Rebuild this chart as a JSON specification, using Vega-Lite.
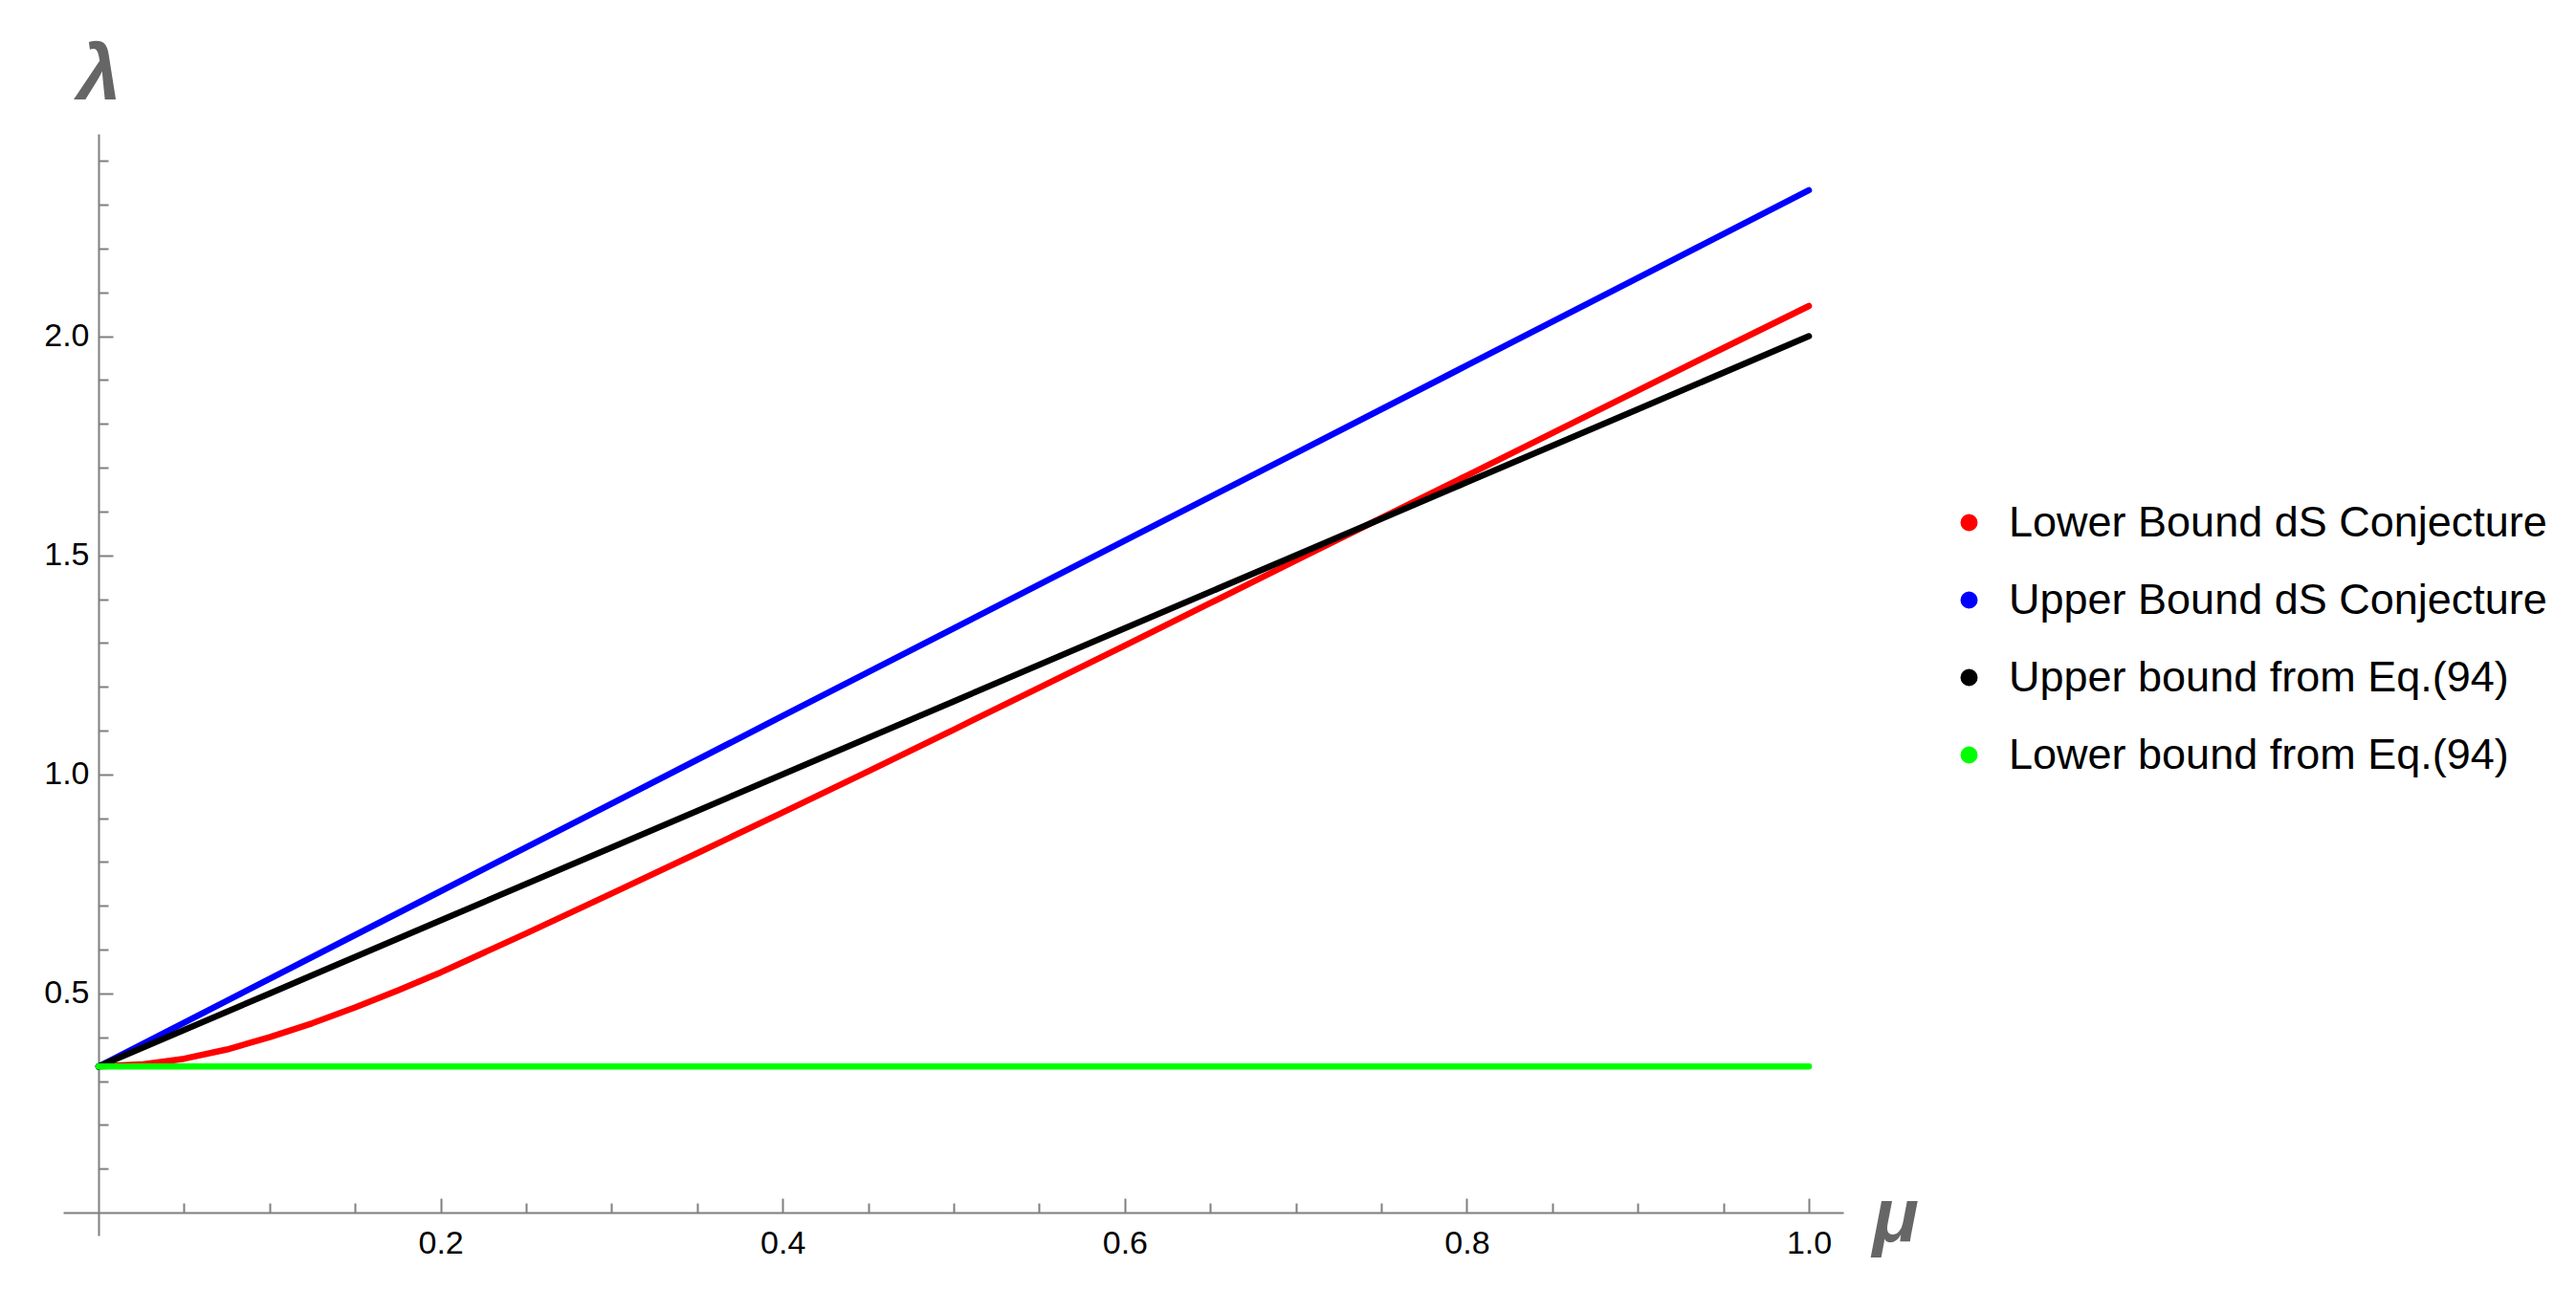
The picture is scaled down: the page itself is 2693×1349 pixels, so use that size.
{
  "$schema": "https://vega.github.io/schema/vega-lite/v6.json",
  "width": 1861,
  "height": 1152,
  "autosize": {"type": "none"},
  "padding": {"left": 66, "top": 140, "right": 766, "bottom": 57},
  "background": "white",
  "config": {"view": {"stroke": null}, "font": "Liberation Sans"},
  "data": {"values": [
    {"mu": 0, "lambda": 0.3333, "series": "Lower Bound dS Conjecture"},
    {"mu": 0.025, "lambda": 0.338, "series": "Lower Bound dS Conjecture"},
    {"mu": 0.05, "lambda": 0.351, "series": "Lower Bound dS Conjecture"},
    {"mu": 0.075, "lambda": 0.372, "series": "Lower Bound dS Conjecture"},
    {"mu": 0.1, "lambda": 0.4, "series": "Lower Bound dS Conjecture"},
    {"mu": 0.125, "lambda": 0.432, "series": "Lower Bound dS Conjecture"},
    {"mu": 0.15, "lambda": 0.468, "series": "Lower Bound dS Conjecture"},
    {"mu": 0.175, "lambda": 0.507, "series": "Lower Bound dS Conjecture"},
    {"mu": 0.2, "lambda": 0.548, "series": "Lower Bound dS Conjecture"},
    {"mu": 0.25, "lambda": 0.637, "series": "Lower Bound dS Conjecture"},
    {"mu": 0.3, "lambda": 0.728, "series": "Lower Bound dS Conjecture"},
    {"mu": 0.35, "lambda": 0.82, "series": "Lower Bound dS Conjecture"},
    {"mu": 0.4, "lambda": 0.913, "series": "Lower Bound dS Conjecture"},
    {"mu": 0.45, "lambda": 1.007, "series": "Lower Bound dS Conjecture"},
    {"mu": 0.5, "lambda": 1.102, "series": "Lower Bound dS Conjecture"},
    {"mu": 0.55, "lambda": 1.198, "series": "Lower Bound dS Conjecture"},
    {"mu": 0.6, "lambda": 1.294, "series": "Lower Bound dS Conjecture"},
    {"mu": 0.65, "lambda": 1.391, "series": "Lower Bound dS Conjecture"},
    {"mu": 0.7, "lambda": 1.488, "series": "Lower Bound dS Conjecture"},
    {"mu": 0.75, "lambda": 1.585, "series": "Lower Bound dS Conjecture"},
    {"mu": 0.8, "lambda": 1.682, "series": "Lower Bound dS Conjecture"},
    {"mu": 0.85, "lambda": 1.779, "series": "Lower Bound dS Conjecture"},
    {"mu": 0.9, "lambda": 1.876, "series": "Lower Bound dS Conjecture"},
    {"mu": 0.95, "lambda": 1.973, "series": "Lower Bound dS Conjecture"},
    {"mu": 1.0, "lambda": 2.069, "series": "Lower Bound dS Conjecture"},
    {"mu": 0, "lambda": 0.3333, "series": "Upper Bound dS Conjecture"},
    {"mu": 0.1, "lambda": 0.5333, "series": "Upper Bound dS Conjecture"},
    {"mu": 0.2, "lambda": 0.7333, "series": "Upper Bound dS Conjecture"},
    {"mu": 0.3, "lambda": 0.9333, "series": "Upper Bound dS Conjecture"},
    {"mu": 0.4, "lambda": 1.1333, "series": "Upper Bound dS Conjecture"},
    {"mu": 0.5, "lambda": 1.3333, "series": "Upper Bound dS Conjecture"},
    {"mu": 0.6, "lambda": 1.5333, "series": "Upper Bound dS Conjecture"},
    {"mu": 0.7, "lambda": 1.7333, "series": "Upper Bound dS Conjecture"},
    {"mu": 0.8, "lambda": 1.9333, "series": "Upper Bound dS Conjecture"},
    {"mu": 0.9, "lambda": 2.1333, "series": "Upper Bound dS Conjecture"},
    {"mu": 1.0, "lambda": 2.3333, "series": "Upper Bound dS Conjecture"},
    {"mu": 0, "lambda": 0.3333, "series": "Upper bound from Eq.(94)"},
    {"mu": 0.1, "lambda": 0.5, "series": "Upper bound from Eq.(94)"},
    {"mu": 0.2, "lambda": 0.6667, "series": "Upper bound from Eq.(94)"},
    {"mu": 0.3, "lambda": 0.8333, "series": "Upper bound from Eq.(94)"},
    {"mu": 0.4, "lambda": 1.0, "series": "Upper bound from Eq.(94)"},
    {"mu": 0.5, "lambda": 1.1667, "series": "Upper bound from Eq.(94)"},
    {"mu": 0.6, "lambda": 1.3333, "series": "Upper bound from Eq.(94)"},
    {"mu": 0.7, "lambda": 1.5, "series": "Upper bound from Eq.(94)"},
    {"mu": 0.8, "lambda": 1.6667, "series": "Upper bound from Eq.(94)"},
    {"mu": 0.9, "lambda": 1.8333, "series": "Upper bound from Eq.(94)"},
    {"mu": 1.0, "lambda": 2.0, "series": "Upper bound from Eq.(94)"},
    {"mu": 0, "lambda": 0.3333, "series": "Lower bound from Eq.(94)"},
    {"mu": 0.5, "lambda": 0.3333, "series": "Lower bound from Eq.(94)"},
    {"mu": 1.0, "lambda": 0.3333, "series": "Lower bound from Eq.(94)"}
  ]},
  "mark": {"type": "line", "strokeWidth": 6.5, "strokeCap": "round", "strokeJoin": "round", "clip": false},
  "encoding": {
    "x": {
      "field": "mu", "type": "quantitative",
      "scale": {"domain": [-0.0207, 1.0201], "nice": false, "zero": false},
      "axis": {
        "orient": "bottom", "offset": -24,
        "values": [0.05,0.1,0.15,0.2,0.25,0.3,0.35,0.4,0.45,0.5,0.55,0.6,0.65,0.7,0.75,0.8,0.85,0.9,0.95,1.0],
        "grid": false,
        "domainColor": "#7f7f7f", "domainWidth": 2,
        "tickColor": "#7f7f7f", "tickWidth": 2,
        "tickSize": {"condition": {"test": "abs(datum.value*5 - round(datum.value*5)) < 0.001", "value": -15}, "value": -10},
        "labelExpr": "abs(datum.value*5 - round(datum.value*5)) < 0.001 ? format(datum.value, '.1f') : ''",
        "labelFontSize": 34, "labelColor": "black", "labelPadding": 30,
        "labelOverlap": false, "labelFlush": false,
        "title": "μ", "titleFontSize": 80, "titleFontStyle": "italic", "titleFontWeight": "bold",
        "titleColor": "#666666", "titleX": 1891, "titleY": 29, "titleAlign": "left", "titleBaseline": "alphabetic", "titleAngle": 0
      }
    },
    "y": {
      "field": "lambda", "type": "quantitative",
      "scale": {"domain": [-0.0524, 2.4618], "nice": false, "zero": false},
      "axis": {
        "orient": "left", "offset": -37,
        "values": [0.1,0.2,0.3,0.4,0.5,0.6,0.7,0.8,0.9,1.0,1.1,1.2,1.3,1.4,1.5,1.6,1.7,1.8,1.9,2.0,2.1,2.2,2.3,2.4],
        "grid": false,
        "domainColor": "#7f7f7f", "domainWidth": 2,
        "tickColor": "#7f7f7f", "tickWidth": 2,
        "tickSize": {"condition": {"test": "abs(datum.value*2 - round(datum.value*2)) < 0.001", "value": -15}, "value": -10},
        "labelExpr": "abs(datum.value*2 - round(datum.value*2)) < 0.001 ? format(datum.value, '.1f') : ''",
        "labelFontSize": 34, "labelColor": "black", "labelPadding": 25,
        "labelOverlap": false, "labelFlush": false,
        "title": "λ", "titleFontSize": 82, "titleFontStyle": "italic", "titleFontWeight": "bold",
        "titleColor": "#666666", "titleX": 0, "titleY": -37, "titleAlign": "center", "titleBaseline": "alphabetic", "titleAngle": 0
      }
    },
    "color": {
      "field": "series", "type": "nominal",
      "scale": {
        "domain": ["Lower Bound dS Conjecture", "Upper Bound dS Conjecture", "Upper bound from Eq.(94)", "Lower bound from Eq.(94)"],
        "range": ["#ff0000", "#0000ff", "#000000", "#00ff00"]
      },
      "legend": {
        "orient": "none", "legendX": 1970, "legendY": 384,
        "title": null, "padding": 0,
        "symbolType": "circle", "symbolSize": 81, "symbolStrokeWidth": 9,
        "labelFontSize": 45, "labelColor": "black", "labelOffset": 19,
        "rowPadding": 35, "labelLimit": 1000
      }
    }
  }
}
